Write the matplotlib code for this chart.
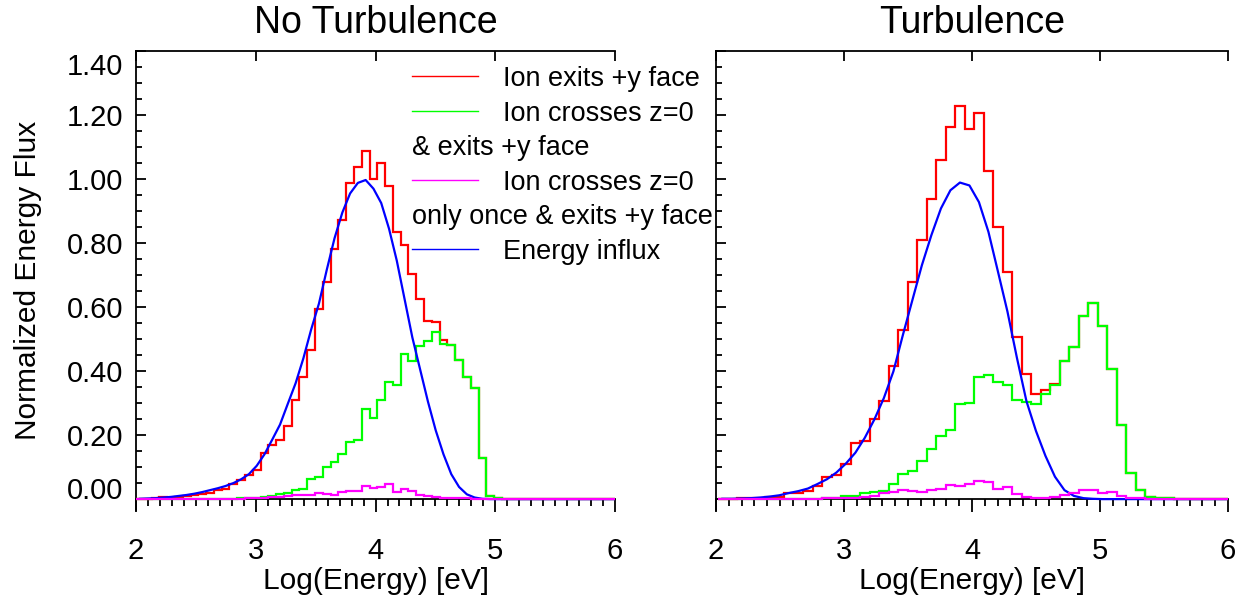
import numpy as np
import matplotlib
matplotlib.use('Agg')
import matplotlib.pyplot as plt
from matplotlib.ticker import MultipleLocator, FormatStrFormatter
from matplotlib.transforms import ScaledTranslation

plt.rcParams['font.family'] = ['Liberation Sans', 'DejaVu Sans']

# %% histogram bins in log10(E), one set per run
left_start, left_width = 2.0, 0.065
right_start, right_width = 2.012, 0.07425

# %% no turbulence run
left_exit = [0.000, 0.001, 0.003, 0.007, 0.005, 0.007, 0.009, 0.012, 0.016, 0.018,
             0.028, 0.033, 0.046, 0.061, 0.075, 0.091, 0.145, 0.169, 0.186, 0.228,
             0.311, 0.382, 0.466, 0.594, 0.677, 0.783, 0.872, 0.989, 1.039, 1.088,
             0.999, 1.051, 0.978, 0.835, 0.794, 0.703, 0.624, 0.556, 0.552, 0.497,
             0.483, 0.436, 0.382, 0.346, 0.127, 0.010, 0.002, 0.000, 0.000, 0.000,
             0.000, 0.000, 0.000, 0.000, 0.000, 0.000, 0.000, 0.000, 0.000, 0.000,
             0.000, 0.000]
left_cross = [0.000, 0.000, 0.000, 0.000, 0.000, 0.000, 0.000, 0.000, 0.000, 0.000,
              0.000, 0.001, 0.001, 0.002, 0.003, 0.005, 0.007, 0.009, 0.015, 0.018,
              0.028, 0.033, 0.064, 0.070, 0.101, 0.116, 0.141, 0.179, 0.186, 0.280,
              0.255, 0.311, 0.366, 0.355, 0.452, 0.431, 0.478, 0.494, 0.522, 0.485,
              0.480, 0.436, 0.382, 0.346, 0.127, 0.010, 0.002, 0.000, 0.000, 0.000,
              0.000, 0.000, 0.000, 0.000, 0.000, 0.000, 0.000, 0.000, 0.000, 0.000,
              0.000, 0.000]
left_once = [0.000, 0.000, 0.000, 0.000, 0.000, 0.000, 0.000, 0.000, 0.000, 0.000,
             0.000, 0.000, 0.001, 0.001, 0.002, 0.003, 0.004, 0.006, 0.008, 0.010,
             0.012, 0.014, 0.012, 0.018, 0.016, 0.014, 0.022, 0.026, 0.024, 0.040,
             0.036, 0.038, 0.046, 0.023, 0.033, 0.026, 0.013, 0.010, 0.007, 0.005,
             0.004, 0.003, 0.002, 0.001, 0.000, 0.000, 0.000, 0.000, 0.000, 0.000,
             0.000, 0.000, 0.000, 0.000, 0.000, 0.000, 0.000, 0.000, 0.000, 0.000,
             0.000, 0.000]
left_influx = [0.001, 0.002, 0.003, 0.005, 0.007, 0.010, 0.013, 0.017, 0.022, 0.028,
               0.034, 0.041, 0.050, 0.062, 0.078, 0.104, 0.140, 0.186, 0.233, 0.298,
               0.362, 0.440, 0.530, 0.611, 0.716, 0.815, 0.895, 0.955, 0.988, 0.997,
               0.970, 0.925, 0.845, 0.745, 0.625, 0.505, 0.405, 0.305, 0.215, 0.140,
               0.078, 0.038, 0.015, 0.005, 0.001, 0.000, 0.000, 0.000, 0.000, 0.000,
               0.000, 0.000, 0.000, 0.000, 0.000, 0.000, 0.000, 0.000, 0.000, 0.000,
               0.000, 0.000]

# %% turbulence run
right_exit = [0.000, 0.001, 0.002, 0.003, 0.005, 0.006, 0.008, 0.018, 0.018, 0.026,
              0.041, 0.070, 0.075, 0.109, 0.174, 0.183, 0.249, 0.306, 0.415, 0.528,
              0.677, 0.811, 0.939, 1.060, 1.163, 1.227, 1.157, 1.206, 1.024, 0.851,
              0.710, 0.508, 0.391, 0.329, 0.340, 0.361, 0.430, 0.474, 0.571, 0.614,
              0.541, 0.405, 0.233, 0.081, 0.029, 0.008, 0.004, 0.002, 0.001, 0.000,
              0.000, 0.000, 0.000, 0.000]
right_cross = [0.000, 0.000, 0.000, 0.000, 0.000, 0.000, 0.000, 0.000, 0.000, 0.001,
               0.001, 0.002, 0.003, 0.010, 0.010, 0.018, 0.021, 0.026, 0.047, 0.080,
               0.088, 0.119, 0.158, 0.197, 0.215, 0.298, 0.300, 0.381, 0.387, 0.365,
               0.356, 0.311, 0.304, 0.296, 0.329, 0.358, 0.430, 0.474, 0.571, 0.614,
               0.541, 0.405, 0.233, 0.081, 0.029, 0.008, 0.004, 0.002, 0.001, 0.000,
               0.000, 0.000, 0.000, 0.000]
right_once = [0.000, 0.000, 0.000, 0.000, 0.000, 0.000, 0.000, 0.000, 0.000, 0.000,
              0.001, 0.002, 0.002, 0.003, 0.003, 0.007, 0.010, 0.019, 0.023, 0.028,
              0.026, 0.023, 0.029, 0.033, 0.044, 0.041, 0.047, 0.057, 0.055, 0.031,
              0.039, 0.016, 0.008, 0.005, 0.005, 0.007, 0.012, 0.019, 0.030, 0.027,
              0.019, 0.021, 0.010, 0.005, 0.003, 0.001, 0.000, 0.000, 0.000, 0.000,
              0.000, 0.000, 0.000, 0.000]
right_influx = [0.001, 0.001, 0.002, 0.003, 0.005, 0.008, 0.012, 0.019, 0.025, 0.033,
                0.047, 0.062, 0.083, 0.111, 0.145, 0.192, 0.249, 0.316, 0.399, 0.513,
                0.622, 0.731, 0.825, 0.908, 0.965, 0.989, 0.980, 0.928, 0.835, 0.711,
                0.586, 0.441, 0.306, 0.213, 0.135, 0.070, 0.028, 0.010, 0.003, 0.001,
                0.000, 0.000, 0.000, 0.000, 0.000, 0.000, 0.000, 0.000, 0.000, 0.000,
                0.000, 0.000, 0.000, 0.000]

legend_rows = [("Ion exits +y face", "red"),
               ("Ion crosses z=0", "lime"),
               ("& exits +y face", None),
               ("Ion crosses z=0", "magenta"),
               ("only once & exits +y face", None),
               ("Energy influx", "blue")]


def draw_panel(ax, start, width, exit_, cross, once, influx):
    n = len(exit_)
    edges = start + width * np.arange(n + 1)
    centers = 0.5 * (edges[:-1] + edges[1:])
    ax.stairs(exit_, edges, baseline=None, color='red', lw=1.6, zorder=3)
    ax.stairs(cross, edges, baseline=None, color='lime', lw=1.6, zorder=3.2)
    ax.plot(centers, influx, color='blue', lw=1.6, zorder=3.4)
    ax.stairs(once, edges, baseline=None, color='magenta', lw=1.6, zorder=3.6)

    ax.set_xlim(2, 6)
    ax.set_ylim(-0.034, 1.40)
    ax.spines['right'].set_visible(False)
    ax.spines['top'].set_visible(False)
    ax.spines['bottom'].set_position(('data', 0))
    for s in ('left', 'bottom'):
        ax.spines[s].set_linewidth(1.3)

    ax.xaxis.set_major_locator(MultipleLocator(1))
    ax.xaxis.set_minor_locator(MultipleLocator(0.1))
    ax.yaxis.set_major_locator(MultipleLocator(0.2))
    ax.yaxis.set_minor_locator(MultipleLocator(0.05))
    ax.yaxis.set_major_formatter(FormatStrFormatter('%.2f'))
    ax.tick_params(axis='x', which='major', direction='out', length=9, width=1.3,
                   labelsize=21, pad=18)
    ax.tick_params(axis='x', which='minor', direction='out', length=5, width=1.3)
    ax.tick_params(axis='y', which='major', direction='in', length=7.5, width=1.3,
                   labelsize=21, pad=9)
    ax.tick_params(axis='y', which='minor', direction='in', length=4.5, width=1.3)

    # top frame with inward major ticks only
    top = ax.secondary_xaxis('top')
    top.spines['top'].set_linewidth(1.3)
    top.xaxis.set_major_locator(MultipleLocator(1))
    top.xaxis.set_minor_locator(MultipleLocator(10))
    top.tick_params(axis='x', which='major', direction='in', length=7.5, width=1.3,
                    labeltop=False)
    top.tick_params(axis='x', which='minor', length=0)

    ax.set_xlabel('Log(Energy) [eV]', fontsize=21.5, labelpad=2)


fig = plt.figure(figsize=(12.47, 6.11), dpi=100)
ax1 = fig.add_axes([0.1091, 0.1653, 0.3841, 0.7512])
ax2 = fig.add_axes([0.5742, 0.1653, 0.4106, 0.7512])

draw_panel(ax1, left_start, left_width, left_exit, left_cross, left_once, left_influx)
draw_panel(ax2, right_start, right_width, right_exit, right_cross, right_once, right_influx)
ax2.tick_params(axis='y', labelleft=False)

ax1.set_title('No Turbulence', fontsize=27, pad=13)
ax2.set_title('Turbulence', fontsize=27, pad=13)
ax1.set_ylabel('Normalized Energy Flux', fontsize=21.5)
ax1.yaxis.set_label_coords(-0.196, 0.5)

# legend with wrapped labels
for i, (text, color) in enumerate(legend_rows):
    y = 0.9455 - i * 0.0754
    if color:
        ax1.plot([0.576, 0.714], [y, y], transform=ax1.transAxes, color=color,
                 lw=1.0, clip_on=False)
        ax1.text(0.766, y, text, transform=ax1.transAxes, fontsize=19.5,
                 va='center_baseline', ha='left')
    else:
        ax1.text(0.576, y, text, transform=ax1.transAxes, fontsize=19.5,
                 va='center_baseline', ha='left')

# pull the end labels of the y axis inwards
fig.canvas.draw()
for tick in ax1.yaxis.get_major_ticks():
    loc = tick.get_loc()
    if abs(loc - 1.4) < 1e-6:
        shift = -0.13
    elif abs(loc) < 1e-6:
        shift = 0.11
    else:
        continue
    lab = tick.label1
    lab.set_transform(lab.get_transform() + ScaledTranslation(0, shift, fig.dpi_scale_trans))

fig.savefig('out.png', dpi=100)
